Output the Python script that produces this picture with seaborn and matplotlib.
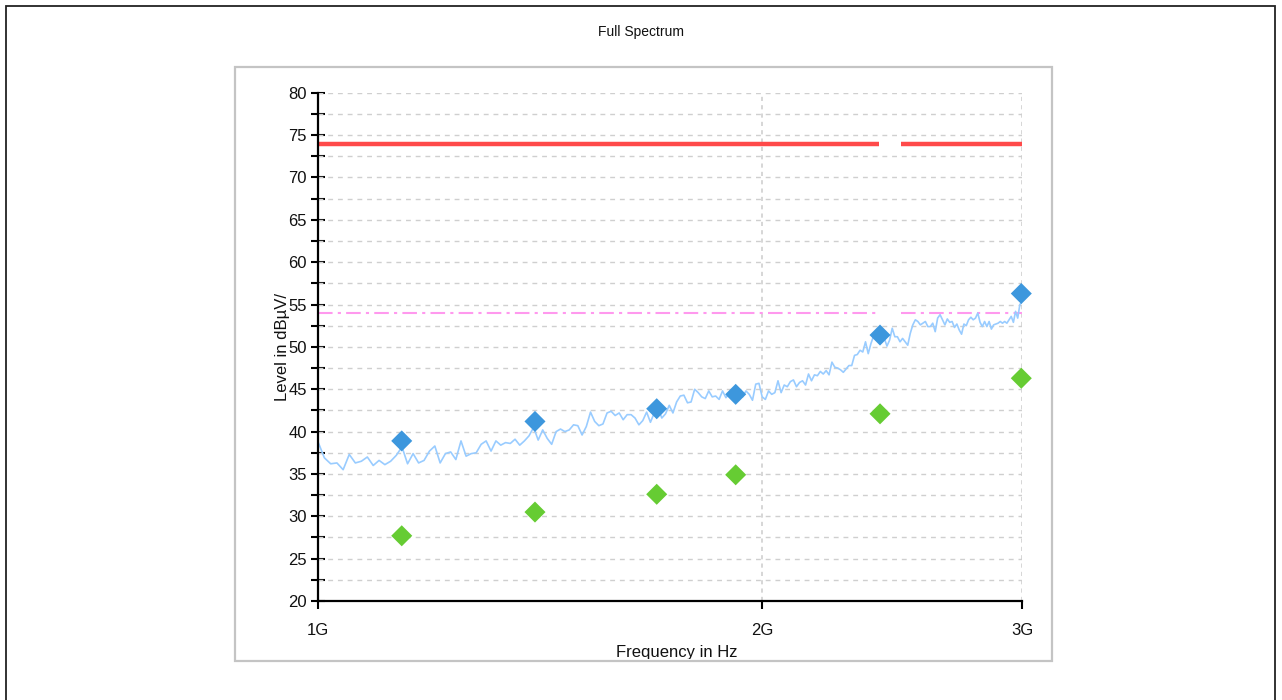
import matplotlib
matplotlib.use("Agg")
import matplotlib.pyplot as plt
from matplotlib.patches import Rectangle
from matplotlib.ticker import FixedLocator, FixedFormatter, MultipleLocator
from matplotlib.transforms import TransformedBbox, Bbox
import numpy as np
import pandas as pd
import seaborn as sns

# ---------------- data ----------------
# sweep frequencies (MHz)
freq_mhz = [
    1000, 1010, 1020, 1030, 1040, 1050, 1060, 1070, 1080, 1090,
    1100, 1110, 1120, 1130, 1140, 1150, 1160, 1170, 1180, 1190,
    1200, 1210, 1220, 1230, 1240, 1250, 1260, 1270, 1280, 1290,
    1300, 1310, 1320, 1330, 1340, 1350, 1360, 1370, 1380, 1390,
    1400, 1410, 1420, 1430, 1440, 1450, 1460, 1470, 1480, 1490,
    1500, 1510, 1520, 1530, 1540, 1550, 1560, 1570, 1580, 1590,
    1600, 1610, 1620, 1630, 1640, 1650, 1660, 1670, 1680, 1690,
    1700, 1710, 1720, 1730, 1740, 1750, 1760, 1770, 1780, 1790,
    1800, 1810, 1820, 1830, 1840, 1850, 1860, 1870, 1880, 1890,
    1900, 1910, 1920, 1930, 1940, 1950, 1960, 1970, 1980, 1990,
    2000, 2010, 2020, 2030, 2040, 2050, 2060, 2070, 2080, 2090,
    2100, 2110, 2120, 2130, 2140, 2150, 2160, 2170, 2180, 2190,
    2200, 2210, 2220, 2230, 2240, 2250, 2260, 2270, 2280, 2290,
    2300, 2310, 2320, 2330, 2340, 2350, 2360, 2370, 2380, 2390,
    2400, 2410, 2420, 2430, 2440, 2450, 2460, 2470, 2480, 2490,
    2500, 2510, 2520, 2530, 2540, 2550, 2560, 2570, 2580, 2590,
    2600, 2610, 2620, 2630, 2640, 2650, 2660, 2670, 2680, 2690,
    2700, 2710, 2720, 2730, 2740, 2750, 2760, 2770, 2780, 2790,
    2800, 2810, 2820, 2830, 2840, 2850, 2860, 2870, 2880, 2890,
    2900, 2910, 2920, 2930, 2940, 2950, 2960, 2970, 2980, 2990,
    3000,
]
# measured spectrum level (dBuV/m)
level_db = [
    38.8, 36.9, 36.2, 36.3, 35.5, 37.3, 36.3, 36.5, 37.0, 36.0,
    36.6, 36.1, 36.5, 37.2, 38.2, 36.2, 37.4, 36.3, 36.6, 37.7,
    38.3, 36.3, 37.4, 37.6, 36.7, 38.9, 37.1, 37.4, 37.5, 38.5,
    38.9, 37.7, 38.9, 38.4, 38.7, 38.6, 39.1, 38.4, 38.9, 39.5,
    40.5, 39.0, 40.2, 39.2, 38.5, 40.0, 40.3, 40.0, 40.2, 40.8,
    40.7, 39.6, 40.6, 42.3, 41.2, 40.7, 40.9, 42.2, 42.4, 41.9,
    42.2, 41.4, 42.0, 42.0, 41.6, 40.8, 41.3, 42.3, 41.1, 42.2,
    42.8, 41.6, 42.1, 43.1, 42.2, 43.5, 44.2, 44.3, 43.4, 43.5,
    45.0, 44.6, 44.1, 43.9, 44.8, 44.1, 44.2, 43.8, 44.8, 44.0,
    44.5, 44.3, 44.5, 44.0, 44.1, 44.8, 44.4, 43.7, 45.6, 45.7,
    44.1, 43.8, 44.8, 44.4, 44.6, 46.0, 44.6, 45.5, 45.3, 45.9,
    46.1, 45.3, 45.8, 46.0, 45.5, 46.8, 46.0, 46.7, 46.6, 47.1,
    46.8, 47.2, 46.7, 48.2, 47.6, 47.5, 47.3, 47.0, 47.4, 47.8,
    47.8, 49.0, 49.1, 49.6, 49.4, 50.6, 49.2, 50.4, 51.3, 50.8,
    51.3, 51.5, 51.0, 50.1, 50.8, 52.2, 51.2, 51.2, 50.6, 51.0,
    50.6, 50.2, 51.6, 52.6, 53.2, 53.0, 52.6, 52.8, 53.0, 52.4,
    52.4, 52.8, 51.8, 53.4, 53.8, 53.2, 52.6, 53.3, 52.9, 53.0,
    52.3, 52.7, 52.0, 51.5, 52.7, 52.5, 53.2, 53.5, 53.2, 53.4,
    54.0, 52.9, 52.4, 53.0, 52.4, 53.0, 52.1, 52.6, 52.7, 52.8,
    53.0, 52.8, 53.0, 52.8, 53.2, 53.6, 52.9, 54.2, 53.4, 55.0,
    55.3,
]
# peak detector findings
peak_freq_mhz = [1139.6, 1403.0, 1696.5, 1919.0, 2403.8, 2996.7]
peak_level_db = [38.9, 41.2, 42.7, 44.4, 51.4, 56.3]
# average detector findings (same frequencies)
avg_level_db = [27.7, 30.5, 32.6, 34.9, 42.1, 46.3]

# limit lines (with the 2.4 GHz ISM band gap)
limit_freq_mhz = [1000, 2400, 2483.5, 3000]
limit_peak_db = [74, 74, 74, 74]
limit_avg_db = [54, 54, 54, 54]
limit_segment = ["a", "a", "b", "b"]

x_tick_hz = [1e9, 2e9, 3e9]
x_tick_labels = ["1G", "2G", "3G"]

# ---------------- figure ----------------
sns.set_theme(style="white")
plt.rcParams["font.family"] = ["Liberation Sans", "DejaVu Sans"]

W, H = 1282, 700
fig = plt.figure(figsize=(W / 100, H / 100), dpi=100)
fig.patch.set_facecolor("white")

def fx(px):
    return px / W

def fy(py):
    return 1 - py / H

ax_l, ax_r, ax_t, ax_b = 318, 1022, 92.8, 601
ax = fig.add_axes([fx(ax_l), fy(ax_b), fx(ax_r - ax_l), (ax_b - ax_t) / H])
ax.set_facecolor("white")

trace = pd.DataFrame({"f": np.array(freq_mhz) * 1e6, "L": level_db})
peaks = pd.DataFrame({"f": np.array(peak_freq_mhz) * 1e6, "L": peak_level_db})
avgs = pd.DataFrame({"f": np.array(peak_freq_mhz) * 1e6, "L": avg_level_db})
lim = pd.DataFrame({"f": np.array(limit_freq_mhz) * 1e6,
                    "pk": limit_peak_db, "av": limit_avg_db,
                    "seg": limit_segment})

ax.set_xscale("log")

for seg, d in lim.groupby("seg"):
    sns.lineplot(data=d, x="f", y="pk", ax=ax, color="#ff4a4a", lw=3.2,
                 zorder=4, legend=False, estimator=None,
                 solid_capstyle="butt")
    sns.lineplot(data=d, x="f", y="av", ax=ax, color="#ff99ee", lw=1.5,
                 zorder=3, legend=False, estimator=None,
                 dash_capstyle="butt")
ax.lines[-1].set_dashes([7, 2.5, 1.5, 2.5])
ax.lines[-3].set_dashes([7, 2.5, 1.5, 2.5])

sns.lineplot(data=trace, x="f", y="L", ax=ax, color="#99ccff", lw=1.2,
             zorder=5, legend=False, estimator=None)
sns.scatterplot(data=peaks, x="f", y="L", ax=ax, marker="D", s=115,
                color="#3d97dd", edgecolor="none", zorder=6, legend=False,
                clip_on=False)
sns.scatterplot(data=avgs, x="f", y="L", ax=ax, marker="D", s=115,
                color="#66cc33", edgecolor="none", zorder=6, legend=False,
                clip_on=False)

ax.set_xlim(1e9, 3e9)
ax.set_ylim(20, 80)

ax.xaxis.set_major_locator(FixedLocator(x_tick_hz))
ax.xaxis.set_major_formatter(FixedFormatter(x_tick_labels))
ax.xaxis.set_minor_locator(FixedLocator([]))
ax.yaxis.set_major_locator(MultipleLocator(5))
ax.yaxis.set_minor_locator(MultipleLocator(2.5))

# grid
for yv in np.arange(22.5, 80.1, 2.5):
    ax.axhline(yv, color="#cfcfcf", lw=1.0, dashes=(3.5, 3.5), zorder=1)
for xv in x_tick_hz[1:]:
    ax.axvline(xv, color="#cfcfcf", lw=1.2, dashes=(2.5, 2.5), zorder=1)

for s in ["top", "right"]:
    ax.spines[s].set_visible(False)
for s in ["left", "bottom"]:
    ax.spines[s].set_color("black")
    ax.spines[s].set_linewidth(1.6)
    ax.spines[s].set_zorder(7)

ax.tick_params(axis="y", which="both", direction="inout", length=10,
               width=1.5, color="black", labelsize=12, pad=3,
               labelcolor="#111111", left=True)
ax.tick_params(axis="x", which="major", direction="out", length=6,
               width=1.5, color="black", labelsize=12, pad=10,
               labelcolor="#111111", bottom=True)

ax.set_xlabel("Frequency in Hz", fontsize=12, color="#111111")
ax.set_ylabel("Level in dBµV/", fontsize=12, color="#111111")
ax.xaxis.set_label_coords((677 - ax_l) / (ax_r - ax_l),
                          -(645 - ax_b) / (ax_b - ax_t))
ax.yaxis.set_label_coords(-(ax_l - 290) / (ax_r - ax_l), 0.5)

# panel frame
frame = Rectangle((fx(235), fy(661)), fx(1052 - 235), (661 - 67) / H,
                  transform=fig.transFigure, fill=False,
                  edgecolor="#c4c4c4", lw=1.6, zorder=0)
fig.patches.append(frame)
# clip the x label at the frame bottom like the reference
clipbb = TransformedBbox(Bbox([[fx(235), fy(659)], [fx(1052), fy(67)]]),
                         fig.transFigure)
ax.xaxis.label.set_clip_box(clipbb)
ax.xaxis.label.set_clip_on(True)

# outer border
border = Rectangle((fx(6), -0.02), fx(1275 - 6), fy(6) + 0.02,
                   transform=fig.transFigure, fill=False,
                   edgecolor="#222222", lw=1.3, zorder=0)
fig.patches.append(border)

fig.text(0.5, fy(32), "Full Spectrum", ha="center", va="center",
         fontsize=10, color="#111111")

fig.savefig("out.png", dpi=100, facecolor="white")
